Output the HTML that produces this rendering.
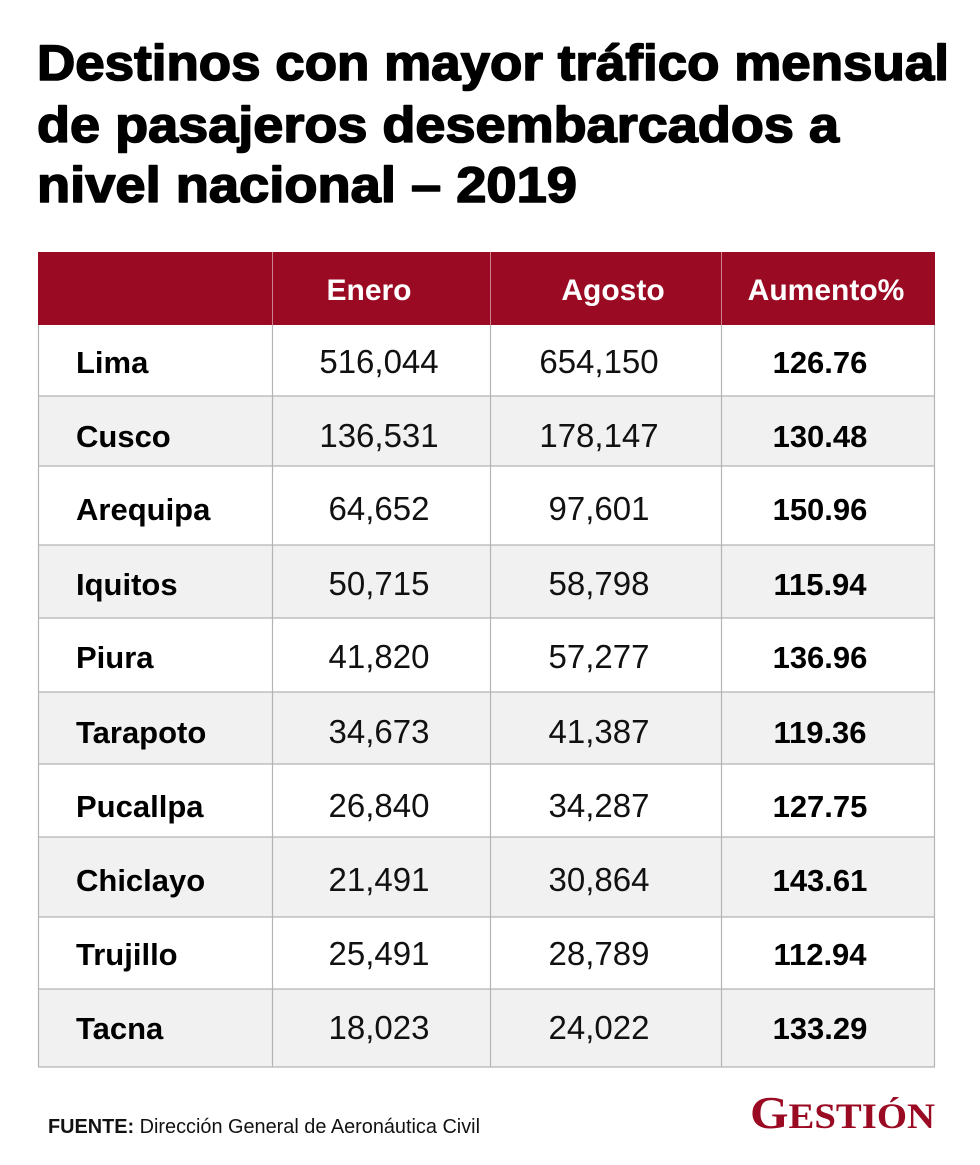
<!DOCTYPE html>
<html>
<head>
<meta charset="utf-8">
<style>
html,body{margin:0;padding:0;background:#fff;}
svg{display:block;}
</style>
</head>
<body>
<svg width="980" height="1165" viewBox="0 0 980 1165" xmlns="http://www.w3.org/2000/svg">
<rect x="0" y="0" width="980" height="1165" fill="#fff"/>
<g font-family="Liberation Sans, sans-serif" font-weight="bold" font-size="50" fill="#000" stroke="#000" stroke-width="1.6" stroke-linejoin="round">
<text x="37" y="80" textLength="912" lengthAdjust="spacingAndGlyphs">Destinos con mayor tráfico mensual</text>
<text x="37" y="142" textLength="802" lengthAdjust="spacingAndGlyphs">de pasajeros desembarcados a</text>
<text x="37" y="202" textLength="540" lengthAdjust="spacingAndGlyphs">nivel nacional – 2019</text>
</g>
<!-- header -->
<rect x="38" y="252" width="897" height="73" fill="#9b0a23"/>
<!-- row backgrounds -->
<rect x="38" y="325" width="897" height="71" fill="#ffffff"/>
<rect x="38" y="396" width="897" height="70" fill="#f1f1f1"/>
<rect x="38" y="466" width="897" height="79" fill="#ffffff"/>
<rect x="38" y="545" width="897" height="73" fill="#f1f1f1"/>
<rect x="38" y="618" width="897" height="74" fill="#ffffff"/>
<rect x="38" y="692" width="897" height="72" fill="#f1f1f1"/>
<rect x="38" y="764" width="897" height="73" fill="#ffffff"/>
<rect x="38" y="837" width="897" height="80" fill="#f1f1f1"/>
<rect x="38" y="917" width="897" height="72" fill="#ffffff"/>
<rect x="38" y="989" width="897" height="78" fill="#f1f1f1"/>
<!-- grid -->
<g stroke="#b4b4b4" stroke-width="1.2" fill="none">
<line x1="38" y1="396" x2="935" y2="396"/>
<line x1="38" y1="466" x2="935" y2="466"/>
<line x1="38" y1="545" x2="935" y2="545"/>
<line x1="38" y1="618" x2="935" y2="618"/>
<line x1="38" y1="692" x2="935" y2="692"/>
<line x1="38" y1="764" x2="935" y2="764"/>
<line x1="38" y1="837" x2="935" y2="837"/>
<line x1="38" y1="917" x2="935" y2="917"/>
<line x1="38" y1="989" x2="935" y2="989"/>
<line x1="38" y1="1067" x2="935" y2="1067"/>
<line x1="38.5" y1="325" x2="38.5" y2="1067"/>
<line x1="934.5" y1="325" x2="934.5" y2="1067"/>
<line x1="272.5" y1="325" x2="272.5" y2="1067"/>
<line x1="490.5" y1="325" x2="490.5" y2="1067"/>
<line x1="721.5" y1="325" x2="721.5" y2="1067"/>
</g>
<g stroke="#d9a0aa" stroke-width="1" opacity="0.8">
<line x1="272.5" y1="252" x2="272.5" y2="325"/>
<line x1="490.5" y1="252" x2="490.5" y2="325"/>
<line x1="721.5" y1="252" x2="721.5" y2="325"/>
</g>
<!-- header text -->
<g font-family="Liberation Sans, sans-serif" font-weight="bold" font-size="30" fill="#fff" text-anchor="middle">
<text x="369" y="300">Enero</text>
<text x="613" y="300">Agosto</text>
<text x="826" y="300">Aumento%</text>
</g>
<!-- names -->
<g font-family="Liberation Sans, sans-serif" font-weight="bold" font-size="31" fill="#000">
<text x="76" y="373">Lima</text>
<text x="76" y="447">Cusco</text>
<text x="76" y="520">Arequipa</text>
<text x="76" y="595">Iquitos</text>
<text x="76" y="668">Piura</text>
<text x="76" y="743">Tarapoto</text>
<text x="76" y="817">Pucallpa</text>
<text x="76" y="891">Chiclayo</text>
<text x="76" y="965">Trujillo</text>
<text x="76" y="1039">Tacna</text>
</g>
<!-- Enero -->
<g font-family="Liberation Sans, sans-serif" font-size="33" fill="#111" text-anchor="middle">
<text x="379" y="373">516,044</text>
<text x="379" y="447">136,531</text>
<text x="379" y="520">64,652</text>
<text x="379" y="595">50,715</text>
<text x="379" y="668">41,820</text>
<text x="379" y="743">34,673</text>
<text x="379" y="817">26,840</text>
<text x="379" y="891">21,491</text>
<text x="379" y="965">25,491</text>
<text x="379" y="1039">18,023</text>
</g>
<!-- Agosto -->
<g font-family="Liberation Sans, sans-serif" font-size="33" fill="#111" text-anchor="middle">
<text x="599" y="373">654,150</text>
<text x="599" y="447">178,147</text>
<text x="599" y="520">97,601</text>
<text x="599" y="595">58,798</text>
<text x="599" y="668">57,277</text>
<text x="599" y="743">41,387</text>
<text x="599" y="817">34,287</text>
<text x="599" y="891">30,864</text>
<text x="599" y="965">28,789</text>
<text x="599" y="1039">24,022</text>
</g>
<!-- Aumento -->
<g font-family="Liberation Sans, sans-serif" font-weight="bold" font-size="31" fill="#000" text-anchor="middle">
<text x="820" y="373">126.76</text>
<text x="820" y="447">130.48</text>
<text x="820" y="520">150.96</text>
<text x="820" y="595">115.94</text>
<text x="820" y="668">136.96</text>
<text x="820" y="743">119.36</text>
<text x="820" y="817">127.75</text>
<text x="820" y="891">143.61</text>
<text x="820" y="965">112.94</text>
<text x="820" y="1039">133.29</text>
</g>
<!-- footer -->
<text x="48" y="1133" font-family="Liberation Sans, sans-serif" font-size="20" fill="#111" textLength="432" lengthAdjust="spacingAndGlyphs"><tspan font-weight="bold">FUENTE:</tspan> Dirección General de Aeronáutica Civil</text>
<text x="750" y="1128" font-family="Liberation Serif, serif" font-weight="bold" fill="#9b0a23" textLength="185" lengthAdjust="spacingAndGlyphs"><tspan font-size="46">G</tspan><tspan font-size="36">ESTIÓN</tspan></text>
</svg>
</body>
</html>
